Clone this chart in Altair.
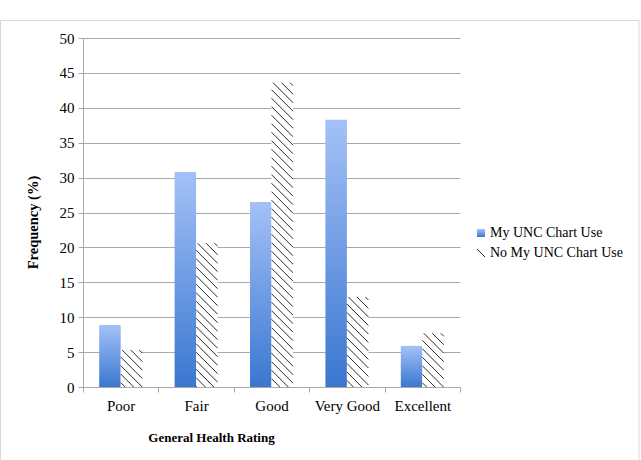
import json

import altair as alt
import pandas as pd

# --- data -----------------------------------------------------------------
CATEGORIES = ["Poor", "Fair", "Good", "Very Good", "Excellent"]
SERIES = ["My UNC Chart Use", "No My UNC Chart Use"]
USE = [8.9, 30.8, 26.5, 38.3, 5.9]
NO_USE = [5.3, 20.6, 43.6, 12.9, 7.7]

rows = []
for i, cat in enumerate(CATEGORIES):
    rows.append({"idx": i, "category": cat, "series": SERIES[0], "value": USE[i]})
    rows.append({"idx": i, "category": cat, "series": SERIES[1], "value": NO_USE[i]})
df = pd.DataFrame(rows)

# --- geometry / style -----------------------------------------------------
W, H = 377, 349
PX = W / len(CATEGORIES)   # pixels per category step
PY = H / 50                # pixels per percentage point
BAR = 21.5                 # bar width, px
BW = BAR / PX              # bar width in category units
STEP = 8.5                 # vertical spacing of hatch lines, px

FONT = "Liberation Serif"
GRID = "#a9a9a9"
INK = "#000000"

blue_grad = alt.Gradient(
    gradient="linear",
    stops=[
        alt.GradientStop(color="#a4c1f7", offset=0),
        alt.GradientStop(color="#3a77d0", offset=1),
    ],
    x1=0, x2=0, y1=0, y2=1,
)

x_scale = alt.Scale(domain=[-0.5, len(CATEGORIES) - 0.5], nice=False, zero=False)
y_scale = alt.Scale(domain=[0, 50], nice=False)

names_js = json.dumps(CATEGORIES)
x_axis = alt.Axis(
    values=[i - 0.5 for i in range(len(CATEGORIES) + 1)],
    labelExpr=f"{names_js}[datum.value + 0.5] || ''",
    labelOffset=PX / 2,
    labelFlush=False,
    labelOverlap=False,
    grid=False,
    domainColor=GRID,
    tickColor=GRID,
    tickSize=5,
    labelFont=FONT,
    labelFontSize=15,
    labelColor=INK,
    labelPadding=6,
    title="General Health Rating",
    titleFont=FONT,
    titleFontSize=13,
    titleFontWeight="bold",
    titleColor=INK,
    titleX=128,
    titleY=50,
    titleAlign="center",
    titleBaseline="middle",
    zindex=1,
)
y_axis = alt.Axis(
    values=list(range(0, 51, 5)),
    grid=True,
    gridColor=GRID,
    domainColor=GRID,
    tickColor=GRID,
    tickSize=5,
    labelFont=FONT,
    labelFontSize=15,
    labelColor=INK,
    labelPadding=4,
    title="Frequency (%)",
    titleFont=FONT,
    titleFontSize=14.5,
    titleFontWeight="bold",
    titleColor=INK,
    titleAngle=-90,
    titleX=-50,
    titleY=184,
    titleAlign="center",
    titleBaseline="middle",
)

base = alt.Chart(df)

# filled bars for chart users
use_bars = (
    base.transform_filter(alt.datum.series == SERIES[0])
    .transform_calculate(x0=f"datum.idx - {BW}", zero="0")
    .mark_rect(color=blue_grad)
    .encode(
        x=alt.X("x0:Q", scale=x_scale, axis=x_axis),
        x2="idx:Q",
        y=alt.Y("value:Q", scale=y_scale, axis=y_axis),
        y2="zero:Q",
    )
)

# white backing for the hatched bars
no_use_bg = (
    base.transform_filter(alt.datum.series == SERIES[1])
    .transform_calculate(x1=f"datum.idx + {BW}", zero="0")
    .mark_rect(color="white")
    .encode(
        x=alt.X("idx:Q", scale=x_scale, axis=x_axis),
        x2="x1:Q",
        y=alt.Y("value:Q", scale=y_scale, axis=y_axis),
        y2="zero:Q",
    )
)

# diagonal hatch lines clipped to each bar
hatch = (
    base.transform_filter(alt.datum.series == SERIES[1])
    .transform_calculate(hpx=f"datum.value * {PY}")
    .transform_calculate(k=f"sequence(0, ceil((datum.hpx + {BAR}) / {STEP}) + 1)")
    .transform_flatten(["k"])
    .transform_calculate(c=f"datum.k * {STEP} - {BAR} + 3")
    .transform_calculate(xs="max(0, -datum.c)", xe=f"min({BAR}, datum.hpx - datum.c)")
    .transform_filter("datum.xs < datum.xe")
    .transform_calculate(
        xa=f"datum.idx + datum.xs / {PX}",
        ya=f"datum.value - (datum.xs + datum.c) / {PY}",
        xb=f"datum.idx + datum.xe / {PX}",
        yb=f"datum.value - (datum.xe + datum.c) / {PY}",
    )
    .mark_rule(color="#2b2b2b", strokeWidth=1)
    .encode(
        x=alt.X("xa:Q", scale=x_scale, axis=x_axis),
        x2="xb:Q",
        y=alt.Y("ya:Q", scale=y_scale, axis=y_axis),
        y2="yb:Q",
    )
)

# outer frame of the chart
one = alt.Data(values=[{"k": 0}])
frame = alt.Chart(one).mark_rect(fill="transparent", stroke="#d9d9d9", strokeWidth=1).encode(
    x=alt.value(-82.5), x2=alt.value(556), y=alt.value(-17.5), y2=alt.value(440)
)

# legend
leg_square = alt.Chart(one).mark_square(color=blue_grad, size=64, opacity=1).encode(
    x=alt.value(398), y=alt.value(195)
)
leg_slash = alt.Chart(one).mark_rule(color="#2b2b2b", strokeWidth=1).encode(
    x=alt.value(394), x2=alt.value(402), y=alt.value(211), y2=alt.value(219)
)
leg_text = [
    alt.Chart(one)
    .mark_text(text=name, font=FONT, fontSize=14, color=INK, align="left", baseline="middle")
    .encode(x=alt.value(407), y=alt.value(yy))
    for name, yy in zip(SERIES, [195, 215])
]

chart = (
    alt.layer(frame, use_bars, no_use_bg, hatch, leg_square, leg_slash, *leg_text)
    .properties(
        width=W,
        height=H,
        autosize=alt.AutoSizeParams(type="none"),
        padding={"left": 83, "top": 38, "right": 641 - 83 - W, "bottom": 460 - 38 - H},
        background="white",
    )
    .configure_view(stroke=None)
)

chart.save("out.html", embed_options={"renderer": "svg", "actions": False})
